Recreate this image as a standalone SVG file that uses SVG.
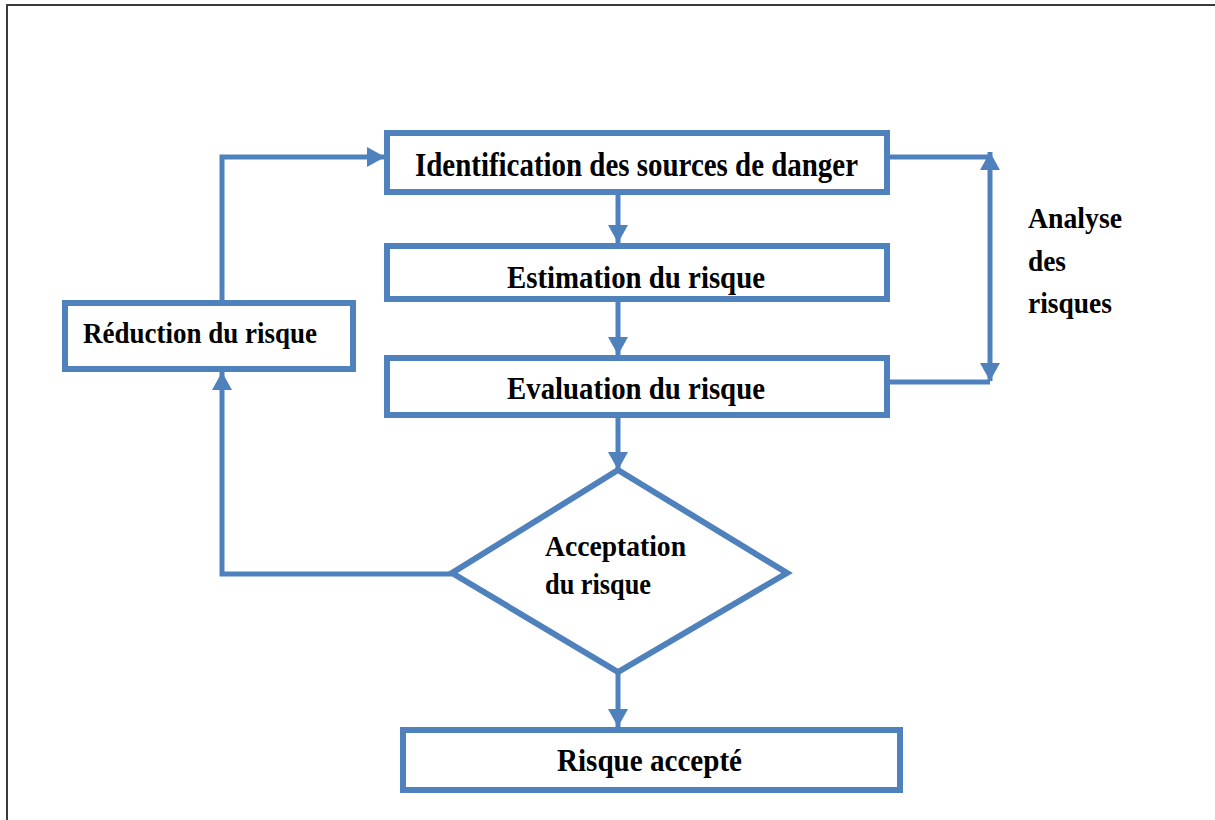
<svg xmlns="http://www.w3.org/2000/svg" width="1215" height="820" viewBox="0 0 1215 820">
  <style>
    .frame { stroke: #3a3a3a; stroke-width: 2; fill: none; }
    .box { fill: none; stroke: #4F81BD; stroke-width: 6; }
    .link { fill: none; stroke: #4F81BD; stroke-width: 5; }
    .lbl { font-family: "Liberation Serif", "Times New Roman", serif; font-weight: bold; fill: #000; }
  </style>
  <defs>
    <marker id="head" viewBox="0 0 18 20" refX="18" refY="10" markerWidth="18" markerHeight="20" markerUnits="userSpaceOnUse" orient="auto-start-reverse">
      <path d="M0,0 L18,10 L0,20 z" fill="#4F81BD"/>
    </marker>
  </defs>

  <rect width="1215" height="820" fill="#fff"/>
  <!-- page frame -->
  <path class="frame" d="M7,820 V5 H1215"/>

  <!-- connectors -->
  <g id="connectors">
    <path class="link" d="M618,195 V243" marker-end="url(#head)"/>
    <path class="link" d="M618,302 V355" marker-end="url(#head)"/>
    <path class="link" d="M618,418 V470" marker-end="url(#head)"/>
    <path class="link" d="M618,672 V727" marker-end="url(#head)"/>
    <path class="link" d="M452,574 H222 V372" marker-end="url(#head)"/>
    <path class="link" d="M222,300 V157 H385" marker-end="url(#head)"/>
    <path class="link" d="M890,157 H990"/>
    <path class="link" d="M890,382 H990"/>
    <path class="link" d="M990,381 V152" marker-start="url(#head)" marker-end="url(#head)"/>
  </g>

  <g id="identification">
    <text class="lbl" x="415" y="176" font-size="33" textLength="443" lengthAdjust="spacingAndGlyphs">Identification des sources de danger</text>
    <rect class="box" x="387" y="133" width="500" height="59"/>
  </g>

  <g id="estimation">
    <text class="lbl" x="507" y="288" font-size="31" textLength="258" lengthAdjust="spacingAndGlyphs">Estimation du risque</text>
    <rect class="box" x="387" y="246" width="500" height="53"/>
  </g>

  <g id="evaluation">
    <text class="lbl" x="507" y="399" font-size="31" textLength="258" lengthAdjust="spacingAndGlyphs">Evaluation du risque</text>
    <rect class="box" x="387" y="358" width="500" height="57"/>
  </g>

  <g id="acceptation">
    <polygon class="box" points="618,470 787,573 618,672 452,573"/>
    <text class="lbl" x="545" y="556" font-size="30" textLength="141" lengthAdjust="spacingAndGlyphs">Acceptation</text>
    <text class="lbl" x="545" y="594" font-size="30" textLength="106" lengthAdjust="spacingAndGlyphs">du risque</text>
  </g>

  <g id="reduction">
    <text class="lbl" x="83" y="343" font-size="30" textLength="234" lengthAdjust="spacingAndGlyphs">Réduction du risque</text>
    <rect class="box" x="65" y="303" width="288" height="66"/>
  </g>

  <g id="accepte">
    <text class="lbl" x="557" y="771" font-size="31" textLength="185" lengthAdjust="spacingAndGlyphs">Risque accepté</text>
    <rect class="box" x="403" y="730" width="497" height="60"/>
  </g>

  <g id="analyse">
    <text class="lbl" x="1028" y="228" font-size="29" textLength="94" lengthAdjust="spacingAndGlyphs">Analyse</text>
    <text class="lbl" x="1028" y="271" font-size="29" textLength="38" lengthAdjust="spacingAndGlyphs">des</text>
    <text class="lbl" x="1028" y="313" font-size="29" textLength="84" lengthAdjust="spacingAndGlyphs">risques</text>
  </g>
</svg>
